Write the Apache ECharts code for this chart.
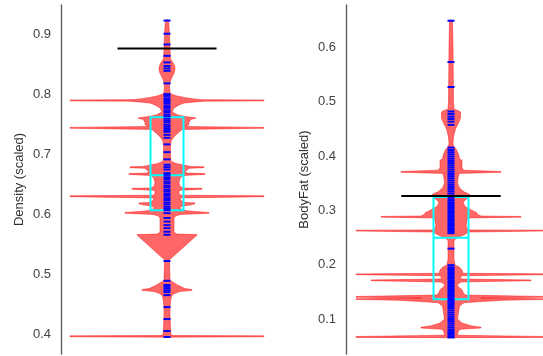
<!DOCTYPE html>
<html>
<head>
<meta charset="utf-8">
<script src="https://cdn.jsdelivr.net/npm/echarts@6/dist/echarts.min.js"></script>
<style>
  html, body { margin: 0; padding: 0; background: #fff; }
  #chart { width: 543px; height: 356px; }
</style>
</head>
<body>
<div id="chart"></div>
<script>
// violin outline: value along the axis, half width (x units ~ px)
const densityProfileV = [0.926, 0.923, 0.915, 0.900, 0.875, 0.860, 0.855, 0.849, 0.844, 0.838, 0.831, 0.824, 0.815, 0.804,
  0.8008, 0.798, 0.7955, 0.793, 0.7918, 0.7912, 0.7898, 0.7893, 0.788, 0.786, 0.783, 0.778, 0.771, 0.766, 0.763, 0.7615,
  0.7605, 0.759, 0.754, 0.750, 0.747, 0.7454, 0.744, 0.742, 0.739, 0.7333, 0.7278, 0.722, 0.715, 0.700, 0.6888, 0.685,
  0.682, 0.680, 0.6795, 0.6781, 0.677, 0.674, 0.6715, 0.669, 0.6682, 0.6668, 0.665, 0.660, 0.652, 0.647, 0.644, 0.6435,
  0.6421, 0.640, 0.6345, 0.632, 0.631, 0.6296, 0.6275, 0.623, 0.620, 0.6192, 0.6178, 0.616, 0.614, 0.611, 0.6075, 0.6055,
  0.6032, 0.6018, 0.600, 0.5975, 0.594, 0.570, 0.567, 0.5663, 0.5655, 0.524, 0.520, 0.490, 0.4865, 0.4825, 0.479, 0.476,
  0.4744, 0.473, 0.471, 0.468, 0.465, 0.460, 0.445, 0.430, 0.410, 0.399, 0.3975, 0.397, 0.3954, 0.3948];
const densityProfileW = [0, 1.5, 2, 2.5, 3, 3.5, 5.5, 7.5, 8, 7.5, 5.5, 3.5, 2.5, 3,
  4.5, 10, 17, 27, 35, 97, 97, 38, 28, 17, 12, 7, 5, 11, 20, 28,
  29, 24, 22, 22, 18, 97, 97, 15, 13, 9, 6, 4, 3.5, 3.5, 4, 9,
  18, 24, 37, 37, 22, 20, 18, 20, 38, 38, 16, 13, 12, 13, 16, 35,
  35, 12, 12, 14, 97, 97, 13, 14, 18, 28, 28, 24, 16, 12, 16, 22,
  42, 42, 14, 9, 7, 7, 10, 30, 30, 2.5, 2.5, 3, 6, 10, 14, 18,
  25, 25, 13, 8, 5, 4, 3, 3, 3.5, 4, 6, 97, 97, 0];
const densityPoints = [0.924, 0.902, 0.884, 0.865, 0.854, 0.848, 0.844, 0.840, 0.819,
  0.801, 0.798, 0.794, 0.791, 0.788, 0.785, 0.781, 0.778, 0.774, 0.771, 0.767, 0.764, 0.760, 0.757, 0.754, 0.750,
  0.747, 0.744, 0.741, 0.738, 0.733, 0.728, 0.717, 0.704, 0.692, 0.683, 0.679, 0.675,
  0.669, 0.666, 0.662, 0.659, 0.655, 0.652, 0.648, 0.645, 0.641, 0.638, 0.634, 0.631, 0.627, 0.624, 0.620, 0.617,
  0.613, 0.610, 0.607, 0.602, 0.594, 0.588, 0.582, 0.577, 0.571, 0.566, 0.522, 0.489, 0.482, 0.479, 0.476, 0.473,
  0.470, 0.465, 0.445, 0.425, 0.405, 0.395];
const densityBox = [0.6069, 0.6654, 0.7624]; // q1, median, q3
const densityMark = 0.8771;

const bodyfatProfileV = [0.651, 0.648, 0.600, 0.500, 0.486, 0.484, 0.481, 0.470, 0.465, 0.459, 0.450, 0.435, 0.422, 0.417,
  0.413, 0.4035, 0.395, 0.392, 0.378, 0.374, 0.3714, 0.37, 0.368, 0.359, 0.350, 0.341, 0.334, 0.330, 0.327, 0.325,
  0.322, 0.315, 0.307, 0.298, 0.2955, 0.293, 0.2895, 0.2887, 0.2873, 0.286, 0.281, 0.272, 0.2665, 0.264, 0.2634, 0.262,
  0.260, 0.256, 0.2525, 0.248, 0.244, 0.210, 0.199, 0.196, 0.190, 0.184, 0.183, 0.1816, 0.1795, 0.176, 0.1735, 0.1719,
  0.1705, 0.168, 0.163, 0.158, 0.154, 0.149, 0.144, 0.1414, 0.14, 0.1385, 0.1372, 0.1358, 0.1345, 0.132, 0.130, 0.124,
  0.112, 0.100, 0.0925, 0.0875, 0.0847, 0.0833, 0.081, 0.076, 0.070, 0.0677, 0.0661, 0.0655];
const bodyfatProfileW = [0, 1.5, 2, 2.5, 3, 7, 9.5, 9.5, 8.5, 7, 4.5, 2.5, 2, 3,
  5, 7.5, 8.5, 11, 11, 13, 50, 50, 8, 7, 6.5, 8.5, 13, 18, 20, 18,
  16, 12, 14, 23, 26, 26, 30, 70, 70, 17, 16, 15, 16, 18, 95, 95,
  18, 14, 10, 5, 3, 3, 4, 8, 11, 12, 95, 95, 11, 9, 11, 80,
  80, 10, 6, 8, 11, 12, 14, 95, 95, 30, 95, 95, 53, 30, 13, 8.5,
  7.5, 6.5, 11, 20, 30, 30, 9, 7, 6.5, 95, 95, 0];
const bodyfatPoints = [0.649, 0.573, 0.527, 0.482, 0.4775, 0.4726, 0.4683, 0.4633, 0.4573, 0.4155,
  0.411, 0.407, 0.403, 0.399, 0.395, 0.391, 0.387, 0.383, 0.379, 0.375, 0.371, 0.367, 0.363, 0.359, 0.355, 0.351,
  0.347, 0.343, 0.339, 0.335, 0.331, 0.327, 0.323, 0.319, 0.315, 0.312, 0.309, 0.306, 0.303, 0.300, 0.297, 0.294,
  0.291, 0.288, 0.285, 0.282, 0.279, 0.276, 0.273, 0.270, 0.267, 0.264, 0.261, 0.258, 0.2295, 0.199,
  0.195, 0.192, 0.189, 0.186, 0.183, 0.180, 0.177, 0.174, 0.171, 0.168, 0.165, 0.162, 0.159, 0.156, 0.153, 0.150,
  0.147, 0.144, 0.141, 0.138, 0.135, 0.132, 0.129, 0.126, 0.123, 0.120, 0.116, 0.112, 0.108, 0.104, 0.100, 0.096,
  0.092, 0.088, 0.084, 0.080, 0.077, 0.074, 0.071, 0.068, 0.066];
const bodyfatBox = [0.1363, 0.2497, 0.3247];
const bodyfatMark = 0.3265;

const chart = echarts.init(document.getElementById('chart'));

function violin(idx, vals, widths) {
  return {
    type: 'custom', xAxisIndex: idx, yAxisIndex: idx, silent: true, z: 1,
    data: [[0, vals[0]]],
    renderItem: (params, api) => {
      const right = vals.map((v, i) => api.coord([widths[i], v]));
      const left = vals.map((v, i) => api.coord([-widths[i], v])).reverse();
      return {
        type: 'polygon',
        shape: { points: right.concat(left) },
        style: { fill: 'rgba(255,0,0,0.6)', stroke: 'rgba(255,0,0,0.55)', lineWidth: 0.8 }
      };
    }
  };
}

function box(idx, q, half) {
  return {
    type: 'custom', xAxisIndex: idx, yAxisIndex: idx, silent: true, z: 2,
    data: [q],
    renderItem: (params, api) => {
      const a = api.coord([-half, q[2]]);
      const b = api.coord([half, q[0]]);
      const m1 = api.coord([-half, q[1]]);
      const m2 = api.coord([half, q[1]]);
      return {
        type: 'group',
        children: [
          { type: 'rect', shape: { x: a[0], y: a[1], width: b[0] - a[0], height: b[1] - a[1] },
            style: { fill: 'none', stroke: '#00ffff', lineWidth: 2 } },
          { type: 'line', shape: { x1: m1[0], y1: m1[1], x2: m2[0], y2: m2[1] },
            style: { stroke: '#00ffff', lineWidth: 2 } }
        ]
      };
    }
  };
}

function points(idx, vals) {
  return {
    type: 'scatter', xAxisIndex: idx, yAxisIndex: idx, silent: true, z: 3,
    symbol: 'rect', symbolSize: [7, 2],
    itemStyle: { color: '#0000ff', opacity: 1 },
    data: vals.map(v => [0, v])
  };
}

function mark(idx, v, half) {
  return {
    type: 'line', xAxisIndex: idx, yAxisIndex: idx, silent: true, z: 4,
    symbol: 'none',
    lineStyle: { color: '#000', width: 2 },
    data: [[-half, v], [half, v]]
  };
}

function yAxis(idx, name, min, max) {
  return {
    gridIndex: idx, type: 'value', min: min, max: max, splitNumber: 6,
    name: name, nameLocation: 'middle', nameGap: 35,
    nameTextStyle: { color: '#333', fontSize: 13, fontFamily: 'Liberation Sans' },
    axisLine: { show: true, onZero: false, lineStyle: { color: '#555', width: 1.3 } },
    axisTick: { show: false },
    splitLine: { show: false },
    axisLabel: {
      color: '#444', fontSize: 13, fontFamily: 'Liberation Sans', margin: 10,
      showMinLabel: false, showMaxLabel: false,
      formatter: v => Math.abs(v * 10 - Math.round(v * 10)) < 1e-6 ? v.toFixed(1) : ''
    }
  };
}

chart.setOption({
  animation: false,
  grid: [
    { left: 61, top: 5, width: 212, bottom: 2 },
    { left: 346, top: 5, right: 0, bottom: 2 }
  ],
  xAxis: [
    { gridIndex: 0, type: 'value', min: -106, max: 106, show: false },
    { gridIndex: 1, type: 'value', min: -105, max: 92, show: false }
  ],
  yAxis: [
    yAxis(0, 'Density (scaled)', 0.3666, 0.950),
    yAxis(1, 'BodyFat (scaled)', 0.0355, 0.678)
  ],
  series: [
    violin(0, densityProfileV, densityProfileW),
    box(0, densityBox, 16.5),
    points(0, densityPoints),
    mark(0, densityMark, 49.5),
    violin(1, bodyfatProfileV, bodyfatProfileW),
    box(1, bodyfatBox, 17.5),
    points(1, bodyfatPoints),
    mark(1, bodyfatMark, 49.7)
  ]
});
</script>
</body>
</html>
